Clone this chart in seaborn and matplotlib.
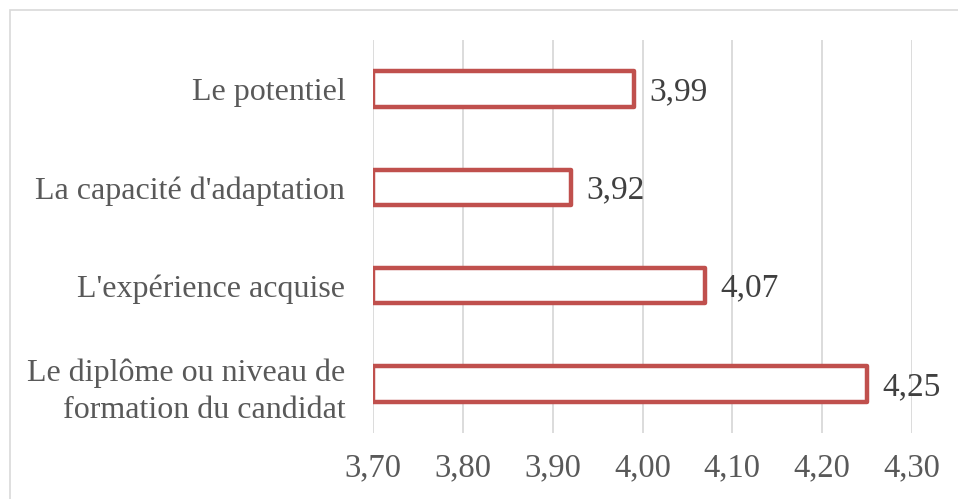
import matplotlib
matplotlib.use("Agg")
import matplotlib.pyplot as plt
from matplotlib.patches import Rectangle
import seaborn as sns
import pandas as pd

categories = [
    "Le potentiel",
    "La capacité d'adaptation",
    "L'expérience acquise",
    "Le diplôme ou niveau de\nformation du candidat",
]
values = [3.99, 3.92, 4.07, 4.25]
value_labels = ["3,99", "3,92", "4,07", "4,25"]
tick_values = [3.70, 3.80, 3.90, 4.00, 4.10, 4.20, 4.30]
tick_labels = ["3,70", "3,80", "3,90", "4,00", "4,10", "4,20", "4,30"]

sns.set_theme(style="white")
plt.rcParams["font.family"] = ["Liberation Serif", "DejaVu Serif"]

df = pd.DataFrame({"critere": categories, "score": values})

fig = plt.figure(figsize=(9.58, 4.99), dpi=100)
ax = fig.add_axes([0.3894, 0.1323, 0.5626, 0.7875])

sns.barplot(data=df, x="score", y="critere", orient="h", ax=ax,
            color="white", edgecolor="#c0504d", linewidth=3.2, width=0.36,
            zorder=3)

# bars start at the axis origin 3,70
base = tick_values[0]
for patch in ax.patches:
    right = patch.get_x() + patch.get_width()
    patch.set_x(base)
    patch.set_width(right - base)
    patch.set_joinstyle("round")

ax.set_xlim(tick_values[0], tick_values[-1])
ax.set_xticks(tick_values)
ax.set_xticklabels(tick_labels)
ax.set_xlabel("")
ax.set_ylabel("")
ax.xaxis.grid(True, color="#d9d9d9", linewidth=1.3, zorder=0)
ax.set_axisbelow(True)
for s in ax.spines.values():
    s.set_visible(False)

ax.tick_params(axis="x", length=0, pad=14, labelsize=23.5, labelcolor="#595959")
ax.tick_params(axis="y", length=0, pad=20, labelsize=23, labelcolor="#595959")
for lbl in ax.get_yticklabels():
    lbl.set_horizontalalignment("right")
    lbl.set_linespacing(1.38)

for patch, txt in zip(ax.patches, value_labels):
    x = patch.get_x() + patch.get_width()
    y = patch.get_y() + patch.get_height() / 2
    ax.annotate(txt, (x, y), xytext=(11, -2), textcoords="offset points",
                ha="left", va="center", fontsize=24, color="#404040",
                annotation_clip=False)

# chart area border
fig.add_artist(Rectangle((10 / 958, -0.2), 1.3, 1 - 10 / 499 + 0.2,
                         transform=fig.transFigure, fill=False,
                         edgecolor="#d9d9d9", linewidth=1.2))

fig.savefig("out.png", dpi=100)
